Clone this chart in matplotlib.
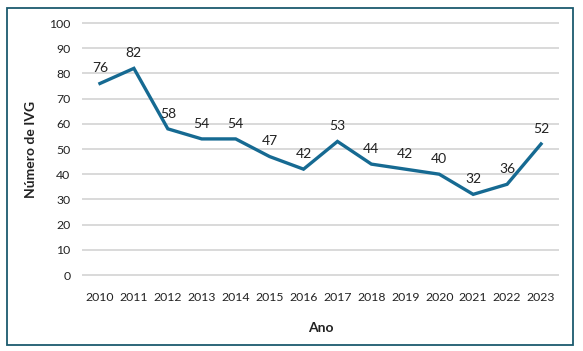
import matplotlib
matplotlib.use("Agg")
import matplotlib.pyplot as plt
from matplotlib.patches import Rectangle

years = ["2010", "2011", "2012", "2013", "2014", "2015", "2016", "2017",
         "2018", "2019", "2020", "2021", "2022", "2023"]
values = [76, 82, 58, 54, 54, 47, 42, 53, 44, 42, 40, 32, 36, 52]
yticks = [0, 10, 20, 30, 40, 50, 60, 70, 80, 90, 100]

plt.rcParams['font.family'] = ['Lato', 'DejaVu Sans']
text_color = "#222222"
line_color = "#166A92"

W, H = 583, 351
fig = plt.figure(figsize=(W / 100, H / 100), dpi=100)
ax = fig.add_axes([83 / W, 1 - 275 / H, (558 - 83) / W, (275 - 23) / H])

x = list(range(len(years)))
ax.plot(x, values, color=line_color, lw=2.4, solid_joinstyle='miter', zorder=3)
for xi, v in zip(x, values):
    ax.annotate(str(v), (xi, v), xytext=(0, 11), textcoords='offset points',
                ha='center', va='center', fontsize=10, color=text_color)

ax.set_xlim(-0.5, len(years) - 0.5)
ax.set_ylim(0, 100)
ax.set_yticks(yticks)
ax.set_xticks(x)
ax.set_xticklabels(years)
for t in yticks:
    ax.axhline(t, color="#D9D9D9", lw=1.4, zorder=1, clip_on=False)
for s in ax.spines.values():
    s.set_visible(False)
ax.tick_params(axis='both', length=0, labelsize=8.8, colors=text_color)
ax.tick_params(axis='y', pad=9)
ax.tick_params(axis='x', pad=12)

ax.set_ylabel("Número de IVG", fontsize=10, fontweight='bold', color=text_color, labelpad=9)
ax.set_xlabel("Ano", fontsize=10, fontweight='bold', color=text_color, labelpad=14)

fig.patches.append(Rectangle((7 / W, 1 - 345 / H), (573 - 7) / W, (345 - 8) / H,
                             transform=fig.transFigure, fill=False,
                             edgecolor="#1B5A6E", lw=1.3))

fig.savefig("out.png", dpi=100)
